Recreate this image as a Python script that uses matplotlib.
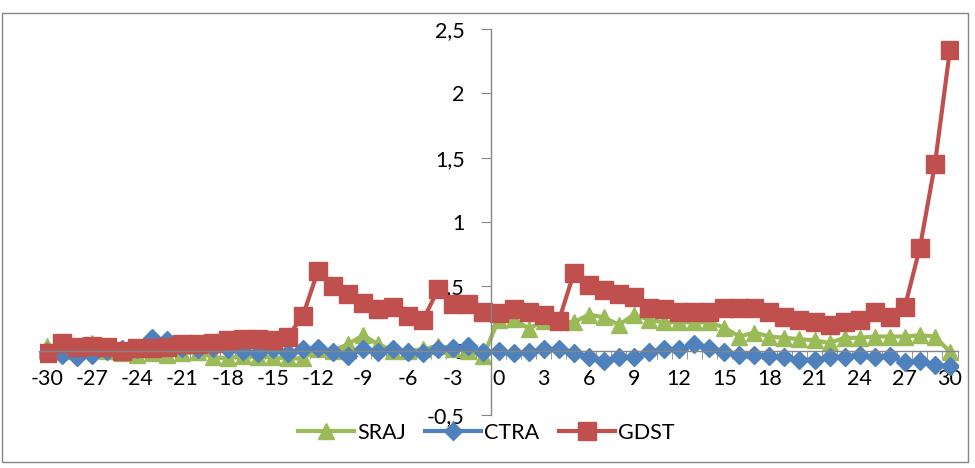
import matplotlib.pyplot as plt
from matplotlib.patches import Rectangle

# Days around the event
days = list(range(-30, 31))

sraj = [0.04, 0.00, 0.02, 0.06, 0.00, -0.02, -0.03, -0.02, -0.03, -0.02,
        -0.01, -0.05, -0.06, -0.04, -0.05, -0.05, -0.06, -0.06, 0.01, 0.00,
        0.05, 0.12, 0.05, 0.00, 0.00, 0.01, 0.04, 0.01, 0.00, -0.04,
        0.24, 0.25, 0.17, 0.23, 0.23, 0.22, 0.28, 0.26, 0.20, 0.28,
        0.24, 0.22, 0.22, 0.22, 0.22, 0.18, 0.11, 0.14, 0.11, 0.10,
        0.09, 0.08, 0.06, 0.10, 0.10, 0.11, 0.11, 0.11, 0.12, 0.11,
        -0.01]

ctra = [-0.01, -0.03, -0.05, -0.03, 0.00, 0.01, 0.01, 0.10, 0.08, 0.02,
        0.01, 0.02, 0.01, 0.00, -0.02, 0.01, -0.02, 0.01, 0.02, -0.01,
        -0.04, 0.01, -0.01, 0.01, -0.01, -0.02, 0.01, 0.02, 0.04, -0.01,
        0.00, -0.02, -0.01, 0.01, 0.01, -0.02, -0.05, -0.08, -0.05, -0.05,
        -0.01, 0.01, 0.01, 0.05, 0.02, -0.01, -0.03, -0.03, -0.04, -0.05,
        -0.07, -0.07, -0.05, -0.05, -0.03, -0.05, -0.04, -0.09, -0.08, -0.11,
        -0.12]

gdst = [-0.02, 0.06, 0.03, 0.04, 0.03, 0.00, 0.02, 0.02, 0.03, 0.05,
        0.05, 0.06, 0.08, 0.09, 0.09, 0.08, 0.11, 0.27, 0.62, 0.50,
        0.44, 0.37, 0.32, 0.34, 0.27, 0.24, 0.48, 0.36, 0.36, 0.30,
        0.29, 0.32, 0.30, 0.28, 0.23, 0.60, 0.51, 0.47, 0.44, 0.42,
        0.33, 0.32, 0.30, 0.30, 0.30, 0.33, 0.33, 0.33, 0.30, 0.26,
        0.24, 0.22, 0.20, 0.22, 0.24, 0.30, 0.26, 0.34, 0.80, 1.45,
        2.34]

xtick_vals = list(range(-30, 31, 3))
ytick_vals = [-0.5, 0, 0.5, 1, 1.5, 2, 2.5]
ytick_labels = ['-0,5', '0', '0,5', '1', '1,5', '2', '2,5']

plt.rcParams['font.family'] = ['Lato', 'DejaVu Sans']
fs = 15.5

fig = plt.figure(figsize=(9.75, 4.68), dpi=100)
ax = fig.add_axes([39.5 / 975, 53 / 468, 918 / 975, 386 / 468])

ax.plot(days, sraj, color='#9BBB59', lw=3, marker='^', ms=11, mec='#9BBB59', label='SRAJ')
ax.plot(days, ctra, color='#4F81BD', lw=3, marker='D', ms=9, mec='#4F81BD', label='CTRA')
ax.plot(days, gdst, color='#C0504D', lw=3, marker='s', ms=13, mec='#C0504D', label='GDST')

ax.set_xlim(-30.5, 30.5)
ax.set_ylim(-0.5, 2.5)

ax.spines['top'].set_visible(False)
ax.spines['right'].set_visible(False)
ax.spines['left'].set_position(('data', -0.5))
ax.spines['bottom'].set_position(('data', 0))
for s in ['left', 'bottom']:
    ax.spines[s].set_color('#868686')
    ax.spines[s].set_linewidth(1)

ax.set_xticks(xtick_vals)
ax.set_xticklabels([str(v) for v in xtick_vals])
ax.set_xticks([v + 0.5 for v in range(-31, 31)], minor=True)
ax.tick_params(axis='x', which='major', length=0, pad=13, labelsize=fs)
ax.tick_params(axis='x', which='minor', length=6, color='#868686', direction='out')

ax.set_yticks(ytick_vals)
ax.set_yticklabels(ytick_labels)
ax.tick_params(axis='y', which='major', length=7, color='#868686', pad=12, labelsize=fs)

fig.legend(loc='center', bbox_to_anchor=(486 / 975, 1 - 433 / 468), ncol=3,
           frameon=False, fontsize=fs, handlelength=2.6, columnspacing=0.9,
           handletextpad=0.15)

fig.patches.append(Rectangle((2 / 975, 6 / 468), 966 / 975, 449 / 468,
                             transform=fig.transFigure, fill=False,
                             edgecolor='#868686', lw=1))

plt.savefig('out.png', dpi=100)
